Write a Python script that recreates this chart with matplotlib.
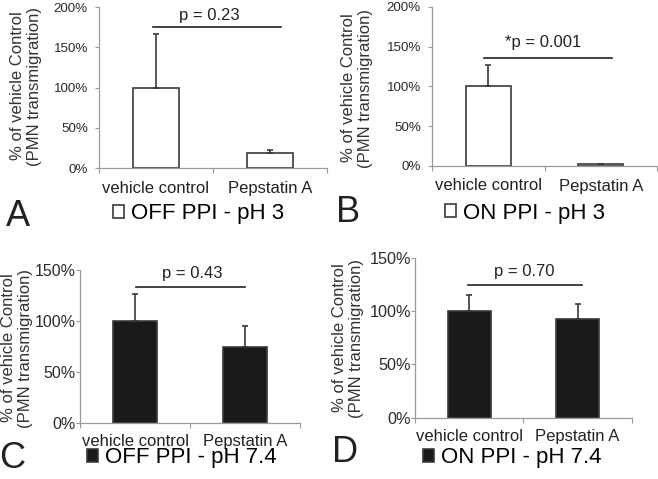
import matplotlib
matplotlib.use('Agg')
import matplotlib.pyplot as plt
import numpy as np

plt.rcParams['font.family'] = ['Liberation Sans', 'DejaVu Sans']

# %% data
groups = ['vehicle control', 'Pepstatin A']

a_vals = [100, 19]
a_err = [66, 3]
b_vals = [100, 2]
b_err = [27, 1]
c_vals = [100, 74]
c_err = [26, 21]
d_vals = [100, 93]
d_err = [15, 14]

p_labels = ['p = 0.23', '*p = 0.001', 'p = 0.43', 'p = 0.70']
legend_labels = ['OFF PPI - pH 3', 'ON PPI - pH 3', 'OFF PPI - pH 7.4', 'ON PPI - pH 7.4']
panel_letters = ['A', 'B', 'C', 'D']

W, H = 658, 479
fig = plt.figure(figsize=(W / 100, H / 100), dpi=100)

def px_axes(left, right, y0, ytop):
    return fig.add_axes([left / W, 1 - y0 / H, (right - left) / W, (y0 - ytop) / H])

def fx(x):
    return x / W

def fy(y):
    return 1 - y / H

edge = '#3a3a3a'
axis_col = '#9a9a9a'

# panel settings: axes box (px), y max, ticks, fill, tick font, x pad, y pad, bracket, p text pos
panels = [
    dict(box=(99, 327, 168, 7), ymax=200, yt=[0, 50, 100, 150, 200], vals=a_vals, err=a_err,
         fill='white', tfs=9.6, xpad=9, ypad=5, br=(-0.03, 1.1, 175), pt=(0.47, 190),
         ylab=(26, 86), letter=(18, 216), leg=(113, 214)),
    dict(box=(432, 657, 166, 6.7), ymax=200, yt=[0, 50, 100, 150, 200], vals=b_vals, err=b_err,
         fill='white', tfs=9.6, xpad=9, ypad=5, br=(-0.04, 1.1, 136), pt=(0.49, 155),
         ylab=(357, 88), letter=(348, 213), leg=(445, 213)),
    dict(box=(80, 300, 422.7, 270), ymax=150, yt=[0, 50, 100, 150], vals=c_vals, err=c_err,
         fill='#1a1a1a', tfs=11.5, xpad=8, ypad=0, br=(0.01, 1.0, 133), pt=(0.52, 147),
         ylab=(17, 348), letter=(12, 459), leg=(87, 458)),
    dict(box=(415, 631.7, 417.7, 257.7), ymax=150, yt=[0, 50, 100, 150], vals=d_vals, err=d_err,
         fill='#1a1a1a', tfs=11.7, xpad=8, ypad=0, br=(-0.01, 1.04, 124), pt=(0.51, 137),
         ylab=(348, 338), letter=(345, 452), leg=(423, 458)),
]

x = np.arange(len(groups))
for i, p in enumerate(panels):
    ax = px_axes(*p['box'])
    ax.bar(x, p['vals'], width=0.4, color=p['fill'], edgecolor=edge, linewidth=1.2,
           label=legend_labels[i], zorder=2)
    ax.errorbar(x, p['vals'], yerr=[np.zeros(len(x)), p['err']], fmt='none',
                ecolor=edge, elinewidth=1.2, capsize=2.5, capthick=1.2, zorder=3)
    ax.set_xlim(-0.5, 1.5)
    ax.set_ylim(0, p['ymax'])
    ax.set_yticks(p['yt'])
    ax.set_yticklabels(['%d%%' % v for v in p['yt']], fontsize=p['tfs'], color='#2a2a2a')
    ax.set_xticks(x)
    ax.set_xticklabels(groups, fontsize=12, color='#222222')
    ax.set_xticks([-0.5, 0.5, 1.5], minor=True)
    ax.tick_params(axis='x', which='major', length=0, pad=p['xpad'])
    ax.tick_params(axis='x', which='minor', length=3.5, color=axis_col, width=0.8)
    ax.tick_params(axis='y', length=3, color=axis_col, width=0.8, pad=p['ypad'])
    for s in ['top', 'right']:
        ax.spines[s].set_visible(False)
    for s in ['left', 'bottom']:
        ax.spines[s].set_color(axis_col)
        ax.spines[s].set_linewidth(0.9)

    # significance bracket
    x0, x1, yb = p['br']
    ax.plot([x0, x1], [yb, yb], color='#222222', linewidth=1.2, clip_on=False)
    ax.text(p['pt'][0], p['pt'][1], p_labels[i], fontsize=12, ha='center', va='center',
            color='#222222')

    fig.text(fx(p['ylab'][0]), fy(p['ylab'][1]), '% of vehicle Control\n(PMN transmigration)',
             rotation=90, ha='center', va='center', fontsize=12, color='#333333',
             linespacing=1.15)
    fig.text(fx(p['letter'][0]), fy(p['letter'][1]), panel_letters[i], fontsize=26,
             ha='center', va='center', color='#222222')
    ax.legend(loc='center left', bbox_to_anchor=(fx(p['leg'][0]), fy(p['leg'][1])),
              bbox_transform=fig.transFigure, frameon=False, fontsize=16,
              handlelength=0.5, handleheight=0.5, handletextpad=0.3,
              borderpad=0, borderaxespad=0)

fig.savefig('out.png', dpi=100)
